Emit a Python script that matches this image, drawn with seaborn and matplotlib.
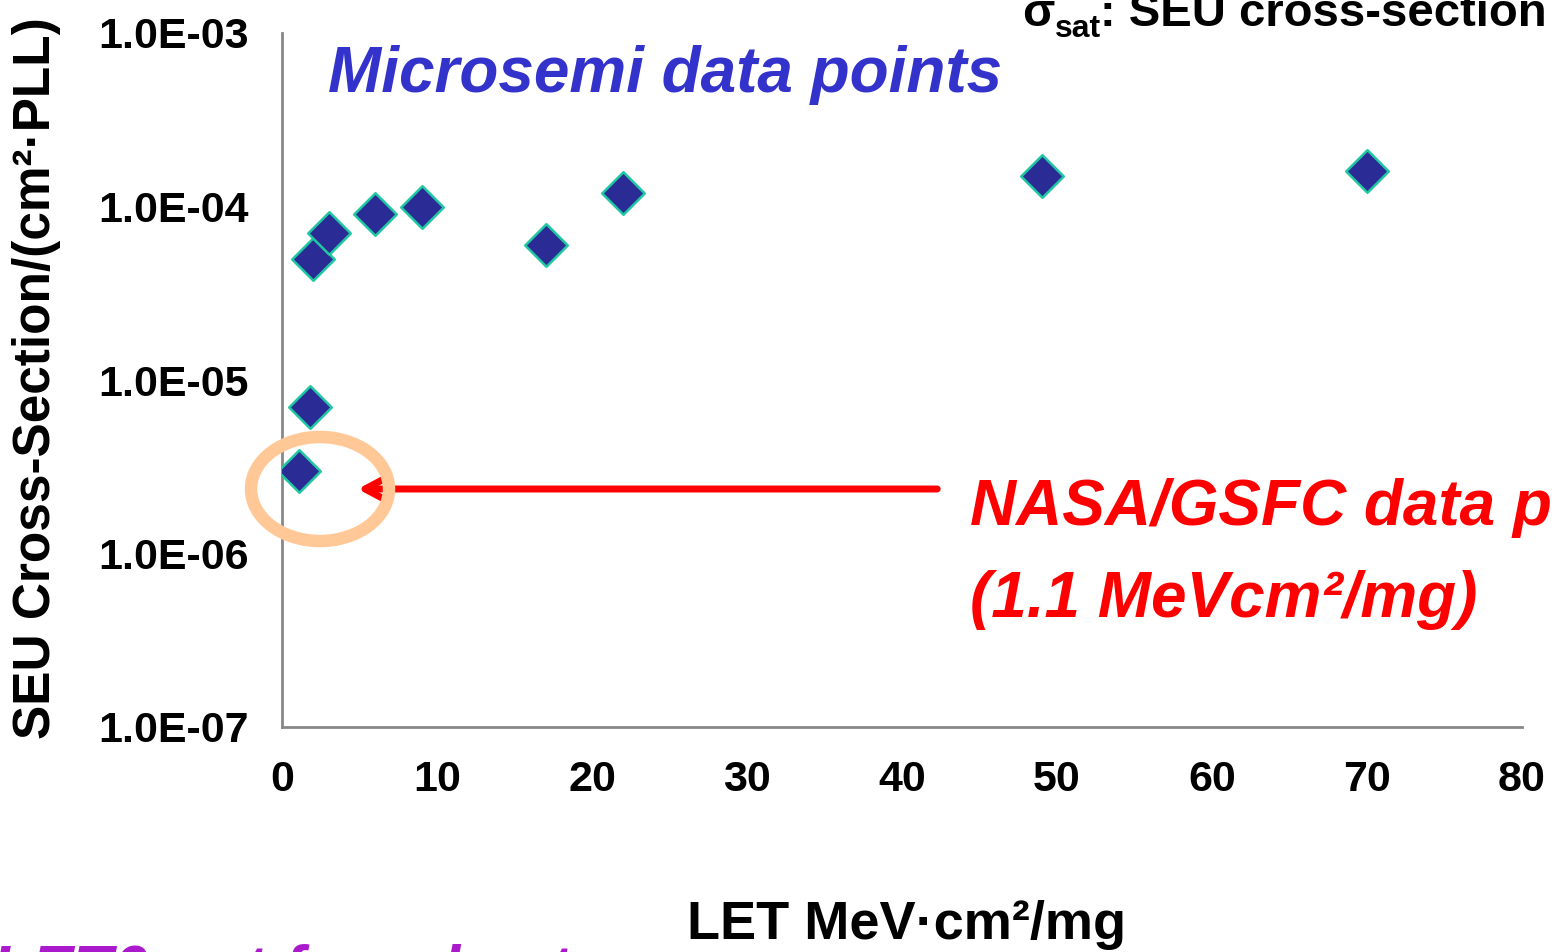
import numpy as np
import pandas as pd
import seaborn as sns
import matplotlib.pyplot as plt
import matplotlib.ticker as mtick
from matplotlib.patches import Ellipse

# data
let_values = [1.1, 1.8, 2, 3, 6, 9, 17, 22, 49, 70]
cross_section = [3e-6, 7e-6, 5e-5, 7e-5, 9e-5, 1e-4, 6e-5, 1.2e-4, 1.5e-4, 1.6e-4]
y_ticks = [1e-7, 1e-6, 1e-5, 1e-4, 1e-3]
x_ticks = [0, 10, 20, 30, 40, 50, 60, 70, 80]

df = pd.DataFrame({"LET": let_values, "sigma": cross_section})

sns.set_style("white")
plt.rcParams["font.family"] = ["Liberation Sans", "DejaVu Sans"]
plt.rcParams["font.weight"] = "bold"
plt.rcParams["text.color"] = "black"
plt.rcParams["xtick.color"] = "black"
plt.rcParams["ytick.color"] = "black"

fig = plt.figure(figsize=(15.52, 9.52), dpi=100)
ax = fig.add_axes([282/1552, 1-727/952, 1240/1552, 694/952])

sns.scatterplot(data=df, x="LET", y="sigma", ax=ax, marker="D", s=470,
                color="#2B2B96", edgecolor="#1FC8A0", linewidth=1.8, zorder=3)

ax.set_yscale("log")
ax.set_xlim(0, 80)
ax.set_ylim(1e-7, 1e-3)
ax.set_xticks(x_ticks)
ax.set_yticks(y_ticks)
ax.yaxis.set_minor_locator(mtick.NullLocator())
ax.yaxis.set_major_formatter(mtick.FuncFormatter(lambda v, p: "1.0E-%02d" % int(round(-np.log10(v)))))
ax.tick_params(axis="both", which="major", direction="out", length=10, width=2,
               color="#888888", labelcolor="black", labelsize=31)
ax.tick_params(axis="y", pad=14)
ax.tick_params(axis="x", pad=14)
for lab in ax.get_xticklabels() + ax.get_yticklabels():
    lab.set_fontweight("bold")
for side in ["top", "right"]:
    ax.spines[side].set_visible(False)
for side in ["left", "bottom"]:
    ax.spines[side].set_color("#888888")
    ax.spines[side].set_linewidth(2)
ax.set_xlabel("")
ax.set_ylabel("")

fig.text(37/1552, 1-378/952, "SEU Cross-Section/(cm²·PLL)", rotation=90, ha="center",
         va="center", fontsize=37, fontweight="bold")
fig.text(907/1552, 1-925/952, "LET MeV·cm²/mg", ha="center", va="center",
         fontsize=39, fontweight="bold")

fig.text(328/1552, 1-75/952, "Microsemi data points", ha="left", va="center",
         fontsize=46, fontweight="bold", style="italic", color="#3333CC")

fig.text(970/1552, 1-508/952, "NASA/GSFC data points", ha="left", va="center",
         fontsize=46, fontweight="bold", style="italic", color="#FF0000")
fig.text(970/1552, 1-600/952, "(1.1 MeVcm²/mg)", ha="left", va="center",
         fontsize=46, fontweight="bold", style="italic", color="#FF0000")

fig.text(1022/1552, 1-14/952, "σ", ha="left", va="center", fontsize=34, fontweight="bold")
fig.text(1055/1552, 1-29/952, "sat", ha="left", va="center", fontsize=23, fontweight="bold")
fig.text(1100/1552, 1-14/952, ": SEU cross-section", ha="left", va="center",
         fontsize=34, fontweight="bold")

fig.text(-8/1552, 1-944/952, "LET0 not found yet", ha="left", va="top",
         fontsize=46, fontweight="bold", style="italic", color="#AA1ACC")

ell = Ellipse((320/1552, 1-489/952), 138/1552, 104/952, transform=fig.transFigure,
              fill=False, edgecolor="#FFC896", linewidth=9, zorder=2, clip_on=False)
fig.patches.append(ell)

ax.annotate("", xy=(355/1552, 1-489/952), xycoords="figure fraction",
            xytext=(940/1552, 1-489/952), textcoords="figure fraction",
            arrowprops=dict(arrowstyle="->,head_length=1.5,head_width=0.8",
                            color="#FF0000", lw=5))

fig.savefig("out.png", dpi=100)
